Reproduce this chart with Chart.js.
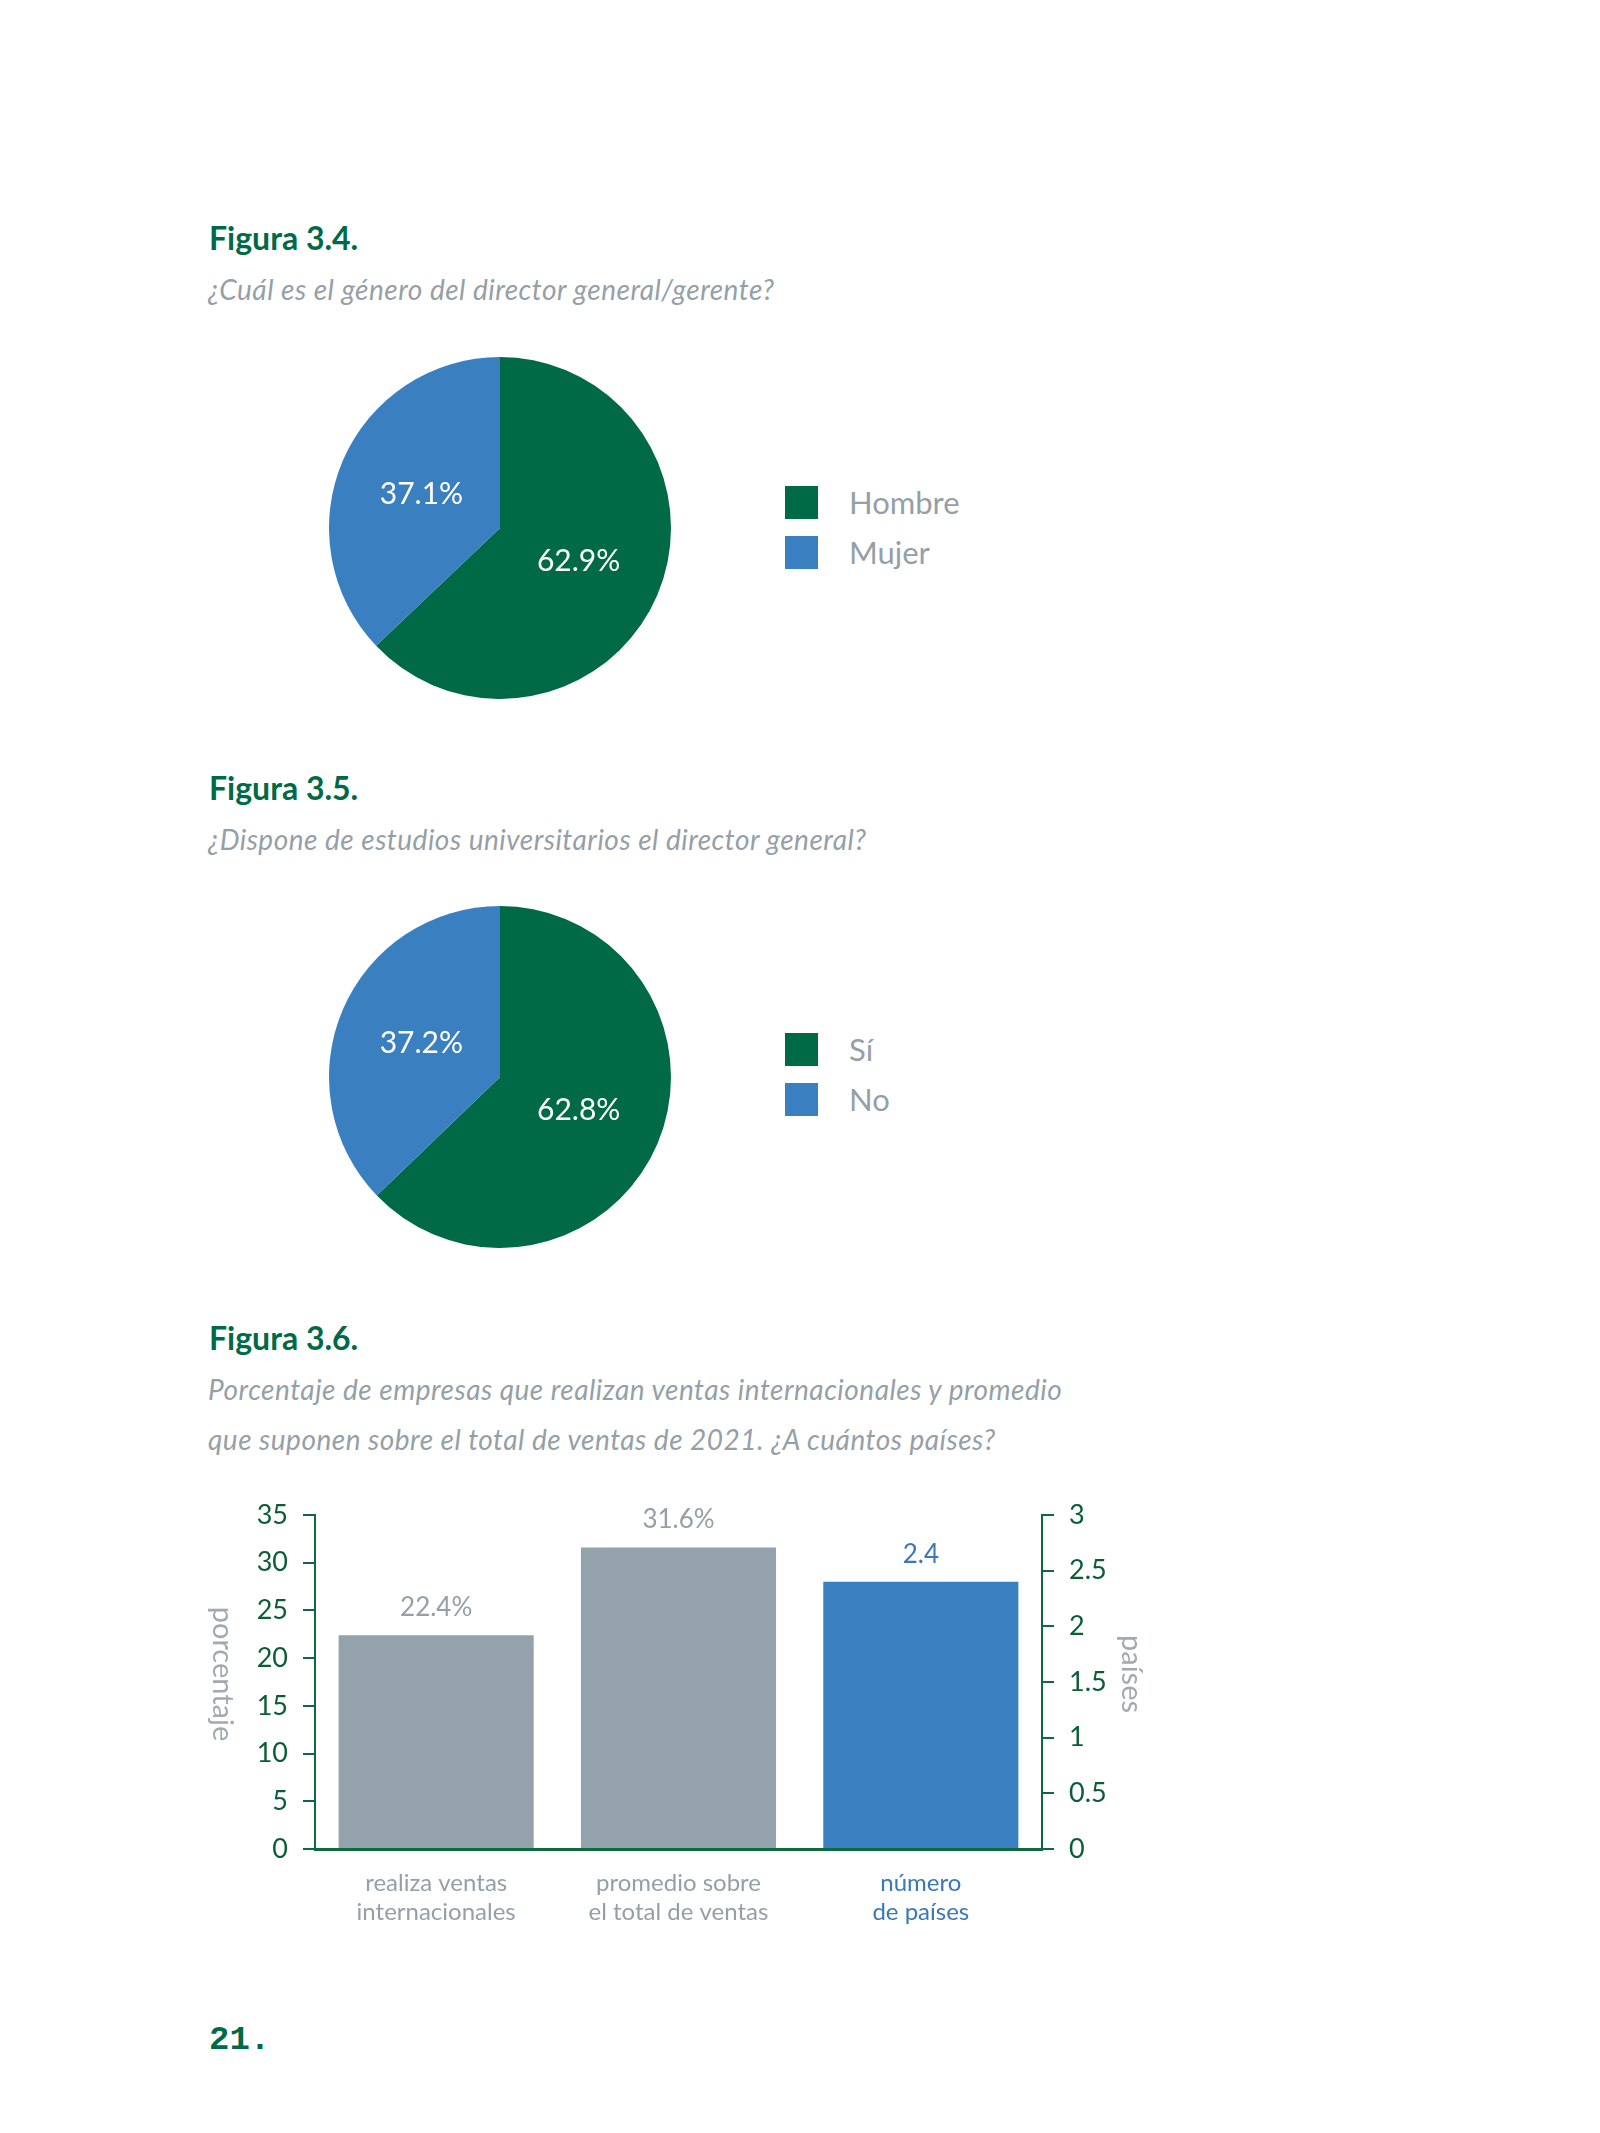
<!DOCTYPE html>
<html lang="es">
<head>
<meta charset="utf-8">
<title>Figuras 3.4 – 3.6</title>
<script src="https://cdn.jsdelivr.net/npm/chart.js@4.4.1/dist/chart.umd.min.js"></script>
<style>
  html, body { margin: 0; padding: 0; background: #ffffff; }
  body { width: 1600px; height: 2133px; position: relative; overflow: hidden; font-family: 'Lato', 'Noto Sans', sans-serif; }
  .fig { position: absolute; left: 209px; font-weight: 700; font-size: 32px; line-height: 1.2; color: #006a47; white-space: nowrap; }
  .sub { position: absolute; left: 208px; font-style: italic; font-size: 28px; letter-spacing: 0.5px; line-height: 1.2; color: #959fa7; white-space: nowrap; }
  .sub.two { line-height: 50px; }
  .pie { position: absolute; left: 329px; width: 342px; height: 342px; }
  .legend { position: absolute; left: 785px; }
  .legend .row { display: flex; align-items: center; height: 33px; margin-bottom: 17px; }
  .legend .sw { width: 33px; height: 33px; flex: none; }
  .legend .tx { margin-left: 31px; font-size: 31px; line-height: 33px; color: #959fa7; white-space: nowrap; }
  #bar { position: absolute; left: 160px; top: 1480px; width: 1000px; height: 469px; }
  .page { position: absolute; left: 209px; top: 2020px; font-family: 'Liberation Mono', 'DejaVu Sans Mono', monospace; font-weight: 700; font-size: 34px; line-height: 1.2; color: #006a47; }
</style>
</head>
<body>

<div class="fig" style="top:219px">Figura 3.4.</div>
<div class="sub" style="top:273px">¿Cuál es el género del director general/gerente?</div>
<canvas id="pie1" class="pie" style="top:357px" width="342" height="342"></canvas>
<div id="legend1" class="legend" style="top:486px"></div>

<div class="fig" style="top:769px">Figura 3.5.</div>
<div class="sub" style="top:823px">¿Dispone de estudios universitarios el director general?</div>
<canvas id="pie2" class="pie" style="top:906px" width="342" height="342"></canvas>
<div id="legend2" class="legend" style="top:1033px"></div>

<div class="fig" style="top:1319px">Figura 3.6.</div>
<div class="sub two" style="top:1364px">Porcentaje de empresas que realizan ventas internacionales y promedio<br>que suponen sobre el total de ventas de 2021. ¿A cuántos países?</div>
<canvas id="bar" width="1000" height="469"></canvas>

<div class="page">21.</div>

<script>
// ---------- data ----------
const genderLabels = ['Hombre', 'Mujer'];
const genderValues = [62.9, 37.1];

const degreeLabels = ['Sí', 'No'];
const degreeValues = [62.8, 37.2];

const barCategories = [
  ['realiza ventas', 'internacionales'],
  ['promedio sobre', 'el total de ventas'],
  ['número', 'de países']
];
const percentValues = [22.4, 31.6, null];
const countryValues = [null, null, 2.4];

// ---------- styles ----------
const GREEN = '#006a47';
const BLUE = '#3a80c0';
const BAR_GRAY = '#94a3ab';
const TEXT_GRAY = '#959fa7';
const AXIS_GREEN = '#0d6a3e';
const TICK_GREEN = '#0b5d35';
const LABEL_BLUE = '#3a78ba';
const FONT = "'Lato', 'Noto Sans', sans-serif";
const pieColors = [GREEN, BLUE];
const categoryColors = [TEXT_GRAY, TEXT_GRAY, LABEL_BLUE];

function buildLegend(id, labels, colors) {
  const box = document.getElementById(id);
  labels.forEach((lab, i) => {
    const row = document.createElement('div');
    row.className = 'row';
    const sw = document.createElement('div');
    sw.className = 'sw';
    sw.style.background = colors[i];
    const tx = document.createElement('div');
    tx.className = 'tx';
    tx.textContent = lab;
    row.appendChild(sw);
    row.appendChild(tx);
    box.appendChild(row);
  });
}

const pieLabelPlugin = {
  id: 'pieLabels',
  afterDatasetsDraw(chart) {
    const ctx = chart.ctx;
    const meta = chart.getDatasetMeta(0);
    const data = chart.data.datasets[0].data;
    ctx.save();
    ctx.fillStyle = '#ffffff';
    ctx.font = '30px ' + FONT;
    ctx.textAlign = 'center';
    ctx.textBaseline = 'middle';
    meta.data.forEach((arc, i) => {
      const p = arc.getProps(['x', 'y', 'startAngle', 'endAngle', 'outerRadius'], true);
      const mid = (p.startAngle + p.endAngle) / 2;
      const r = p.outerRadius * 0.5;
      ctx.fillText(data[i].toFixed(1) + '%', p.x + Math.cos(mid) * r, p.y + Math.sin(mid) * r);
    });
    ctx.restore();
  }
};

function makePie(id, labels, values) {
  new Chart(document.getElementById(id), {
    type: 'pie',
    data: {
      labels: labels,
      datasets: [{ data: values, backgroundColor: pieColors, borderWidth: 0 }]
    },
    options: {
      responsive: false,
      animation: false,
      layout: { padding: 0 },
      plugins: { legend: { display: false }, tooltip: { enabled: false } }
    },
    plugins: [pieLabelPlugin]
  });
}

buildLegend('legend1', genderLabels, pieColors);
buildLegend('legend2', degreeLabels, pieColors);
makePie('pie1', genderLabels, genderValues);
makePie('pie2', degreeLabels, degreeValues);

// ---------- bar chart ----------
const barValuePlugin = {
  id: 'barValues',
  afterDatasetsDraw(chart) {
    const ctx = chart.ctx;
    ctx.save();
    ctx.font = '26px ' + FONT;
    ctx.textAlign = 'center';
    ctx.textBaseline = 'alphabetic';
    chart.data.datasets.forEach((ds, di) => {
      const meta = chart.getDatasetMeta(di);
      meta.data.forEach((bar, i) => {
        const v = ds.data[i];
        if (v === null || v === undefined) return;
        ctx.fillStyle = ds.valueColor;
        ctx.fillText(v.toFixed(1) + ds.valueSuffix, bar.x, bar.y - 19);
      });
    });
    ctx.restore();
  }
};

const axisTitlePlugin = {
  id: 'axisTitles',
  afterDraw(chart) {
    const ctx = chart.ctx;
    const a = chart.chartArea;
    const cy = (a.top + a.bottom) / 2 - 8;
    ctx.save();
    ctx.fillStyle = '#a2aab1';
    ctx.font = '29px ' + FONT;
    ctx.textAlign = 'center';
    ctx.textBaseline = 'middle';
    [['porcentaje', a.left - 93], ['países', a.right + 89]].forEach(([t, x]) => {
      ctx.save();
      ctx.translate(x, cy);
      ctx.rotate(Math.PI / 2);
      ctx.fillText(t, 0, 0);
      ctx.restore();
    });
    ctx.restore();
  }
};

const yCommon = {
  grid: { display: true, drawOnChartArea: false, drawTicks: true, tickLength: 12, color: AXIS_GREEN, lineWidth: 2 },
  border: { display: true, color: AXIS_GREEN, width: 2 },
};

new Chart(document.getElementById('bar'), {
  type: 'bar',
  data: {
    labels: barCategories,
    datasets: [
      { data: percentValues, yAxisID: 'y', backgroundColor: BAR_GRAY, valueColor: TEXT_GRAY, valueSuffix: '%',
        grouped: false, barPercentage: 0.805, categoryPercentage: 1.0, borderWidth: 0 },
      { data: countryValues, yAxisID: 'y1', backgroundColor: BLUE, valueColor: LABEL_BLUE, valueSuffix: '',
        grouped: false, barPercentage: 0.805, categoryPercentage: 1.0, borderWidth: 0 }
    ]
  },
  options: {
    responsive: false,
    animation: false,
    layout: { padding: { top: 35, left: 0, right: 0, bottom: 0 } },
    plugins: { legend: { display: false }, tooltip: { enabled: false } },
    scales: {
      x: {
        grid: { display: false, drawTicks: false },
        border: { display: true, color: AXIS_GREEN, width: 3 },
        ticks: {
          color: (c) => categoryColors[c.index],
          font: { family: FONT, size: 24, lineHeight: 1.2 },
          padding: 20,
          maxRotation: 0,
          autoSkip: false
        },
        afterFit: (s) => { s.height = 100; }
      },
      y: Object.assign({}, yCommon, {
        position: 'left',
        min: 0, max: 35,
        ticks: { stepSize: 5, color: TICK_GREEN, font: { family: FONT, size: 27 }, padding: 15,
                 callback: (v) => String(v) },
        afterFit: (s) => { s.width = 155; }
      }),
      y1: Object.assign({}, yCommon, {
        position: 'right',
        min: 0, max: 3,
        ticks: { stepSize: 0.5, color: TICK_GREEN, font: { family: FONT, size: 27 }, padding: 15,
                 callback: (v) => String(v) },
        afterFit: (s) => { s.width = 118; }
      })
    }
  },
  plugins: [barValuePlugin, axisTitlePlugin]
});
</script>
</body>
</html>
